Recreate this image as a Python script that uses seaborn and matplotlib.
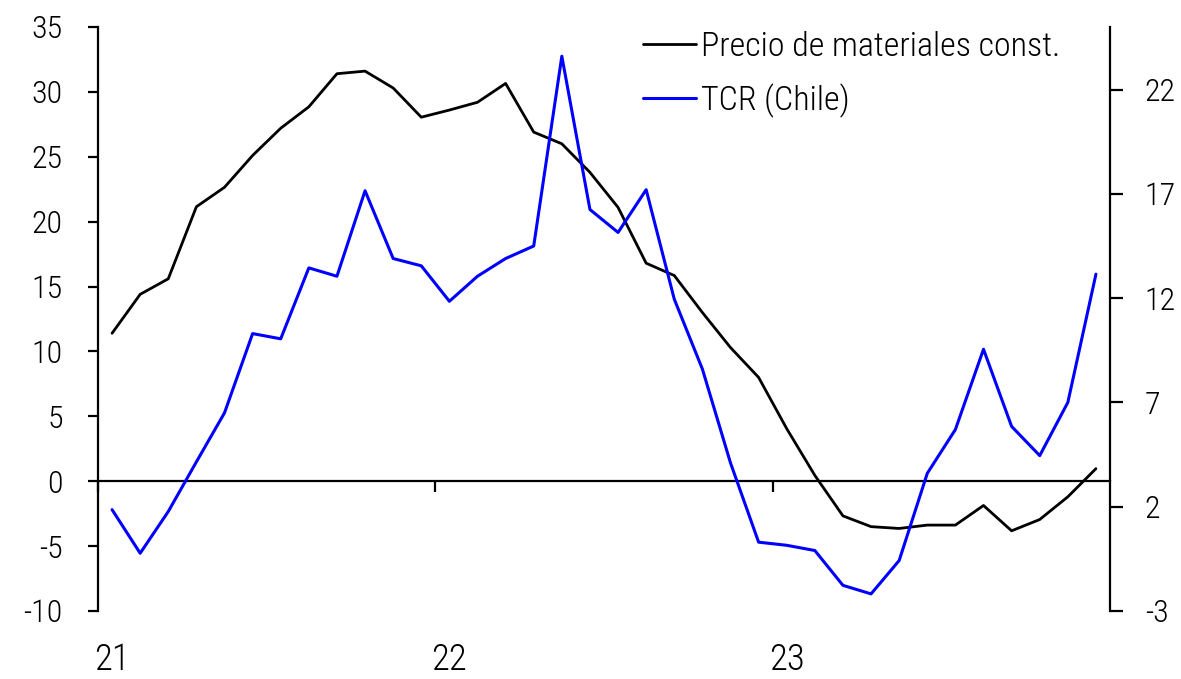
import numpy as np
import pandas as pd
import matplotlib
matplotlib.use("Agg")
import matplotlib.pyplot as plt
import matplotlib.transforms as mtransforms
from matplotlib import font_manager
import seaborn as sns

# ---- data ----
months = pd.date_range("2021-01-01", periods=36, freq="MS")
precio = [11.4, 14.4, 15.6, 21.15, 22.65, 25.1, 27.2, 28.85, 31.4, 31.6, 30.3, 28.05,
          28.6, 29.2, 30.65, 26.9, 26.0, 23.8, 21.1, 16.8, 15.85, 13.0, 10.3, 8.0,
          4.05, 0.45, -2.67, -3.5, -3.64, -3.38, -3.38, -1.87, -3.82, -2.95, -1.2, 0.97]
tcr = [1.86, -0.23, 1.77, 4.15, 6.5, 10.3, 10.05, 13.45, 13.05, 17.15, 13.9, 13.55,
       11.85, 13.05, 13.9, 14.5, 23.6, 16.25, 15.15, 17.2, 11.95, 8.6, 4.1, 0.3,
       0.15, -0.1, -1.77, -2.18, -0.58, 3.6, 5.7, 9.55, 5.85, 4.45, 7.0, 13.15]
series_names = ["Precio de materiales const.", "TCR (Chile)"]
year_labels = ["21", "22", "23"]
left_ticks = list(range(-10, 36, 5))
right_ticks = list(range(-3, 23, 5))

# ---- style ----
sns.set_style("white")
names = {f.name for f in font_manager.fontManager.ttflist}
candidates = ["Nimbus Sans Narrow", "Liberation Sans Narrow", "Arial Narrow",
              "Roboto Condensed", "Archivo Narrow", "PT Sans Narrow",
              "IBM Plex Sans Condensed", "Fira Sans Condensed"]
fam = next((c for c in candidates if c in names), "DejaVu Sans")
plt.rcParams["font.family"] = [fam, "DejaVu Sans"]
plt.rcParams["font.weight"] = 300
plt.rcParams["text.color"] = "black"
plt.rcParams["xtick.color"] = "black"
plt.rcParams["ytick.color"] = "black"
FS = 23
FS_X = 26.5
FS_LEG = 24.5

df = pd.DataFrame({"idx": np.arange(len(months)), "precio": precio, "tcr": tcr})

W, H = 1181, 679
fig = plt.figure(figsize=(W / 100, H / 100), dpi=100)
L, R, T, B = 98, 1110, 27, 611
ax = fig.add_axes([L / W, 1 - B / H, (R - L) / W, (B - T) / H])
ax2 = ax.twinx()

sns.lineplot(data=df, x="idx", y="precio", ax=ax, color="black", linewidth=2.0,
             label=series_names[0], legend=False)
sns.lineplot(data=df, x="idx", y="tcr", ax=ax2, color="#0000FF", linewidth=2.2,
             label=series_names[1], legend=False)

ax.set_xlim(-0.5, len(months) - 0.5)
ax.set_ylim(-10, 35)
ax2.set_ylim(-3, 25)
ax.set_xlabel("")
ax.set_ylabel("")
ax2.set_ylabel("")

# spines
for a in (ax, ax2):
    a.spines["top"].set_visible(False)
    for s in a.spines.values():
        s.set_linewidth(1.6)
        s.set_color("black")
ax.spines["right"].set_visible(False)
ax2.spines["left"].set_visible(False)
ax2.spines["bottom"].set_visible(False)
ax.spines["bottom"].set_position(("data", 0))

# y ticks
ax.set_yticks(left_ticks)
ax.set_yticklabels([str(v) for v in left_ticks])
ax.tick_params(axis="y", direction="out", length=7.5, width=1.6, pad=18,
               labelsize=FS, left=True, color="black", labelcolor="black")
ax2.set_yticks(right_ticks)
ax2.set_yticklabels([str(v) for v in right_ticks])
ax2.tick_params(axis="y", direction="out", length=9, width=1.6, pad=16,
                labelsize=FS, right=True, color="black", labelcolor="black")

# x ticks at year boundaries, labels at first month of each year
year_starts = [i for i, m in enumerate(months) if m.month == 1]
ax.set_xticks([i - 0.5 for i in year_starts])
ax.set_xticklabels([""] * len(year_starts))
ax.tick_params(axis="x", direction="out", length=8, width=1.6, bottom=True, color="black")
trans = mtransforms.blended_transform_factory(ax.transData, ax.transAxes)
for i, lab in zip(year_starts, year_labels):
    ax.text(i, -(660 - B) / (B - T), lab, transform=trans, ha="center", va="center",
            fontsize=FS_X, color="black")

# legend
h1, l1 = ax.get_legend_handles_labels()
h2, l2 = ax2.get_legend_handles_labels()
leg = ax2.legend(h1 + h2, l1 + l2, loc="upper left",
                 bbox_to_anchor=(643 / W, 1 - 31 / H), bbox_transform=fig.transFigure,
                 frameon=False, fontsize=FS_LEG, handlelength=1.55, handletextpad=0.16,
                 labelspacing=0.6, borderpad=0, borderaxespad=0)
for t in leg.get_texts():
    t.set_color("black")

fig.savefig("out.png", dpi=100)
